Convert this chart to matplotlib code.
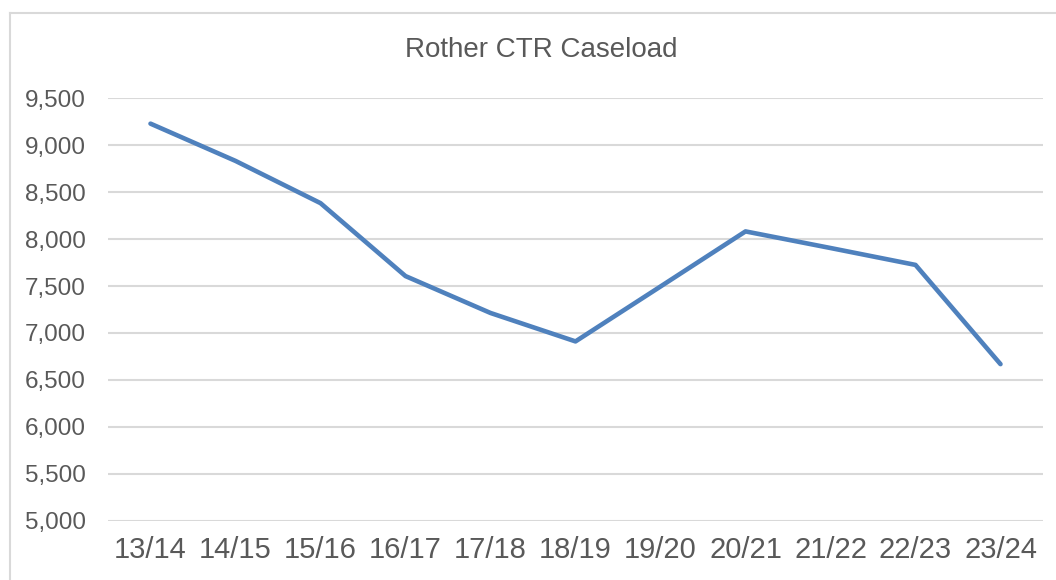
import matplotlib
matplotlib.use("Agg")
import matplotlib.pyplot as plt
from matplotlib.lines import Line2D
from matplotlib.ticker import FuncFormatter

categories = ["13/14", "14/15", "15/16", "16/17", "17/18", "18/19",
              "19/20", "20/21", "21/22", "22/23", "23/24"]
caseload = [9230, 8833, 8383, 7606, 7213, 6910, 7495, 8082, 7905, 7725, 6668]
y_ticks = [5000, 5500, 6000, 6500, 7000, 7500, 8000, 8500, 9000, 9500]

plt.rcParams['font.family'] = ['Liberation Sans', 'DejaVu Sans']

W, H = 1056, 580
fig = plt.figure(figsize=(W / 100, H / 100), dpi=100)
fig.patch.set_facecolor('white')

left, right, top, bottom = 108, 1043, 98.3, 520.7
ax = fig.add_axes([left / W, 1 - bottom / H, (right - left) / W, (bottom - top) / H])

x = list(range(len(categories)))
ax.plot(x, caseload, color='#4F81BD', linewidth=3.3, solid_joinstyle='round',
        solid_capstyle='round', zorder=3)

ax.set_xlim(-0.5, len(categories) - 0.5)
ax.set_ylim(5000, 9500)
ax.set_yticks(y_ticks)
ax.yaxis.set_major_formatter(FuncFormatter(lambda v, p: f"{int(v):,}"))
ax.set_xticks(x)
ax.set_xticklabels(categories)

ax.grid(axis='y', color='#D9D9D9', linewidth=1.5, zorder=0)
ax.set_axisbelow(True)
for s in ax.spines.values():
    s.set_visible(False)
ax.tick_params(axis='both', length=0)
ax.tick_params(axis='y', labelsize=17.5, labelcolor='#595959', pad=16)
ax.tick_params(axis='x', labelsize=21, labelcolor='#595959', pad=11)

fig.text(541 / W, 1 - 50 / H, "Rother CTR Caseload", ha='center', va='center',
         fontsize=20, color='#595959')

# chart outer border (top and left visible)
fig.add_artist(Line2D([10 / W, 1.0], [1 - 13 / H, 1 - 13 / H], color='#D9D9D9',
                      linewidth=1.5, transform=fig.transFigure))
fig.add_artist(Line2D([10 / W, 10 / W], [1 - 13 / H, 0.0], color='#D9D9D9',
                      linewidth=1.5, transform=fig.transFigure))

fig.savefig("out.png", dpi=100, facecolor='white')
